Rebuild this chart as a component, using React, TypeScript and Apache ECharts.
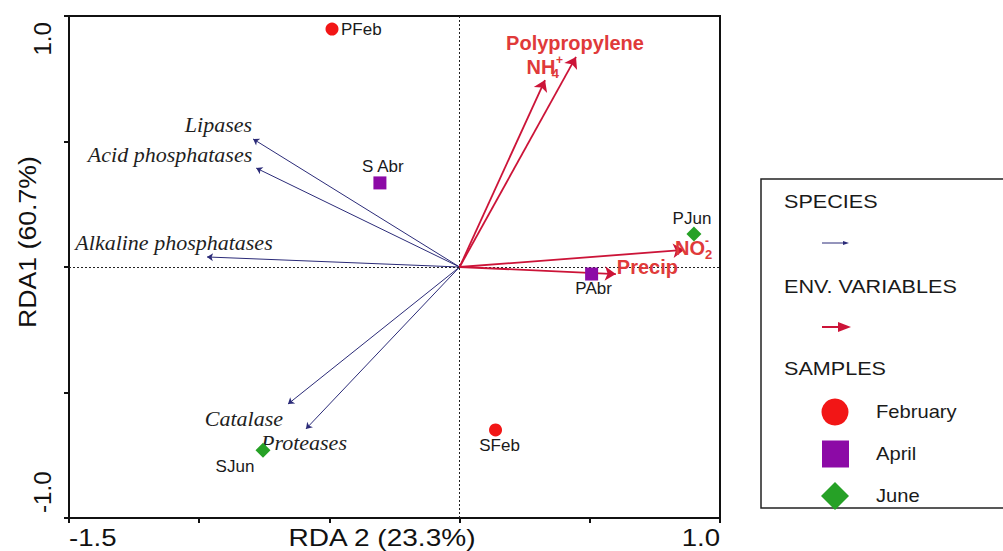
import React, { useEffect, useRef } from "react";
import * as echarts from "echarts";

// ---- data ----
const speciesNames = ["Lipases", "Acid phosphatases", "Alkaline phosphatases", "Catalase", "Proteases"];
const speciesX = [-0.793, -0.781, -0.97, -0.659, -0.59];
const speciesY = [0.51, 0.394, 0.04, -0.546, -0.645];

const envNames = ["Polypropylene", "NH4+", "NO2-", "Precip"];
const envX = [0.447, 0.328, 0.862, 0.6];
const envY = [0.837, 0.745, 0.068, -0.028];

const febNames = ["PFeb", "SFeb"];
const febX = [-0.49, 0.138];
const febY = [0.948, -0.649];

const aprNames = ["S Abr", "PAbr"];
const aprX = [-0.306, 0.507];
const aprY = [0.335, -0.028];

const junNames = ["PJun", "SJun"];
const junX = [0.9, -0.755];
const junY = [0.131, -0.73];

const xTickLabels = [-1.5, 1.0];
const yTickLabels = [1.0, -1.0];
const xName = "RDA 2 (23.3%)";
const yName = "RDA1 (60.7%)";

const legendTitles = ["SPECIES", "ENV. VARIABLES", "SAMPLES"];
const legendSamples = ["February", "April", "June"];

// ---- styles / layout ----
const RED = "#f21616";
const PURPLE = "#8c0aa6";
const GREEN = "#26a126";
const NAVY = "#2b2b78";
const CRIMSON = "#cc1438";
const ENV_TEXT = "#e03a3a";

const speciesLabelLayout: Record<string, any> = {
  "Lipases": { align: "right", offset: [-1, -14] },
  "Acid phosphatases": { align: "right", offset: [-4, -14] },
  "Alkaline phosphatases": { align: "center", offset: [-33, -14] },
  "Catalase": { align: "right", offset: [-5, 14] },
  "Proteases": { align: "center", offset: [-2, 14] },
};
const envLabelLayout: Record<string, any> = {
  "Polypropylene": { align: "center", offset: [-1, -14], text: "{m|Polypropylene}" },
  "NH4+": { align: "center", offset: [0, -13], text: "{m|NH}{s|4}{p|+}" },
  "NO2-": { align: "left", offset: [-9, -2], text: "{m|NO}{s|2}{p|-}" },
  "Precip": { align: "left", offset: [1, -7], text: "{m|Precip}" },
};
const sampleLabelLayout: Record<string, any> = {
  "PFeb": { align: "left", offset: [9, 0] },
  "SFeb": { align: "center", offset: [4, 16] },
  "S Abr": { align: "center", offset: [3, -16] },
  "PAbr": { align: "center", offset: [2, 14] },
  "PJun": { align: "center", offset: [-2, -16] },
  "SJun": { align: "center", offset: [-28, 16] },
};

function sampleSeries(name: string, names: string[], xs: number[], ys: number[], symbol: string, size: number, color: string) {
  return {
    type: "scatter",
    name,
    symbol,
    symbolSize: size,
    z: 10,
    itemStyle: { color, opacity: 1 },
    data: names.map((n, i) => ({
      name: n,
      value: [xs[i], ys[i]],
      label: {
        show: true,
        position: "inside",
        formatter: "{b}",
        color: "#1a1a1a",
        fontFamily: "Arial, Liberation Sans, sans-serif",
        fontSize: 17,
        verticalAlign: "middle",
        ...sampleLabelLayout[n],
      },
    })),
  };
}

export default function App() {
  const ref = useRef<HTMLDivElement>(null);
  useEffect(() => {
    if (!ref.current) return;
    const chart = echarts.init(ref.current, null, { renderer: "svg" });
    const envFont = "Arial, Liberation Sans, sans-serif";
    const option: any = {
      animation: false,
      grid: { left: 69, top: 16, width: 651, height: 502, show: true, borderColor: "#111", borderWidth: 2 },
      xAxis: {
        type: "value", min: -1.5, max: 1.0, interval: 0.5,
        axisLine: { show: true, onZero: false, lineStyle: { color: "#111", width: 2 } },
        axisTick: { show: true, length: 5, lineStyle: { color: "#111", width: 2 } },
        axisLabel: { show: false }, splitLine: { show: false },
      },
      yAxis: {
        type: "value", min: -1.0, max: 1.0, interval: 0.5,
        axisLine: { show: true, onZero: false, lineStyle: { color: "#111", width: 2 } },
        axisTick: { show: true, length: 5, lineStyle: { color: "#111", width: 2 } },
        axisLabel: { show: false }, splitLine: { show: false },
      },
      series: [
        {
          type: "scatter", symbolSize: 0, data: [], silent: true,
          markLine: {
            silent: true, symbol: "none", label: { show: false },
            lineStyle: { color: "#222", type: [2, 2], width: 1 },
            data: [{ xAxis: 0 }, { yAxis: 0 }],
          },
        },
        {
          type: "lines", coordinateSystem: "cartesian2d", z: 4,
          symbol: ["none", "arrow"], symbolSize: [0, 6],
          lineStyle: { color: NAVY, width: 1, opacity: 1, curveness: 0 },
          data: speciesNames.map((n, i) => ({ name: n, coords: [[0, 0], [speciesX[i], speciesY[i]]] })),
        },
        {
          type: "lines", coordinateSystem: "cartesian2d", z: 5,
          symbol: ["none", "arrow"], symbolSize: [0, 11],
          lineStyle: { color: CRIMSON, width: 1.8, opacity: 1, curveness: 0 },
          data: envNames.map((n, i) => ({ name: n, coords: [[0, 0], [envX[i], envY[i]]] })),
        },
        {
          type: "scatter", symbolSize: 0, z: 6, silent: true, itemStyle: { opacity: 1 },
          data: speciesNames.map((n, i) => ({
            name: n, value: [speciesX[i], speciesY[i]],
            label: {
              show: true, position: "inside", formatter: "{b}", color: "#1e1e1e",
              fontFamily: "Liberation Serif, Times New Roman, serif", fontStyle: "italic", fontSize: 22,
              verticalAlign: "middle", ...speciesLabelLayout[n],
            },
          })),
        },
        {
          type: "scatter", symbolSize: 0, z: 7, silent: true, itemStyle: { opacity: 1 },
          data: envNames.map((n, i) => ({
            name: n, value: [envX[i], envY[i]],
            label: {
              show: true, position: "inside", formatter: envLabelLayout[n].text,
              verticalAlign: "middle", align: envLabelLayout[n].align, offset: envLabelLayout[n].offset,
              rich: {
                m: { fontFamily: envFont, fontWeight: "bold", fontSize: 20, color: ENV_TEXT, lineHeight: 20, verticalAlign: "middle" },
                s: { fontFamily: envFont, fontWeight: "bold", fontSize: 13, color: ENV_TEXT, lineHeight: 20, verticalAlign: "bottom", width: 0, align: "left", padding: [0, 0, -3, 0] },
                p: { fontFamily: envFont, fontWeight: "bold", fontSize: 12, color: ENV_TEXT, lineHeight: 20, verticalAlign: "top", width: 8, align: "left", padding: [-3, 0, 0, 0] },
              },
            },
          })),
        },
        sampleSeries("February", febNames, febX, febY, "circle", 13, RED),
        sampleSeries("April", aprNames, aprX, aprY, "rect", 13, PURPLE),
        sampleSeries("June", junNames, junX, junY, "diamond", 15, GREEN),
      ],
    };
    chart.setOption(option);

    const px = (x: number, y: number) => chart.convertToPixel({ gridIndex: 0 }, [x, y]) as number[];
    const axisFont = { fontFamily: "Arial, Liberation Sans, sans-serif", fontSize: 23, fill: "#111" };
    const graphics: any[] = [];
    xTickLabels.forEach((v, i) => {
      const p = px(v, -1.0);
      graphics.push({
        type: "text", x: p[0], y: 538, scaleX: 1.2,
        style: { ...axisFont, text: v.toFixed(1), align: i === 0 ? "left" : "right", verticalAlign: "middle" },
      });
    });
    yTickLabels.forEach((v, i) => {
      const p = px(-1.5, v);
      graphics.push({
        type: "text", x: 43, y: i === 0 ? p[1] + 6 : p[1] - 5, rotation: Math.PI / 2, scaleX: 1.05,
        style: { ...axisFont, text: v.toFixed(1), align: i === 0 ? "right" : "left", verticalAlign: "middle" },
      });
    });
    graphics.push({
      type: "text", x: 382, y: 538, scaleX: 1.22,
      style: { ...axisFont, text: xName, align: "center", verticalAlign: "middle" },
    });
    graphics.push({
      type: "text", x: 28, y: 242, rotation: Math.PI / 2, scaleX: 1.16,
      style: { ...axisFont, text: yName, align: "center", verticalAlign: "middle" },
    });

    const lf = { fontFamily: "Arial, Liberation Sans, sans-serif", fontSize: 18, fill: "#1a1a1a" };
    graphics.push({ type: "rect", shape: { x: 761, y: 179, width: 300, height: 329 }, style: { fill: "#fff", stroke: "#222", lineWidth: 1.5 }, z: 1 });
    const titleY = [202, 287, 369];
    legendTitles.forEach((t, i) => {
      graphics.push({ type: "text", x: 784, y: titleY[i], scaleX: 1.2, z: 2, style: { ...lf, text: t, align: "left", verticalAlign: "middle" } });
    });
    graphics.push({ type: "line", z: 2, shape: { x1: 822, y1: 243, x2: 844, y2: 243 }, style: { stroke: NAVY, lineWidth: 1 } });
    graphics.push({ type: "polygon", z: 2, shape: { points: [[843, 241], [849, 243], [843, 245]] }, style: { fill: NAVY } });
    graphics.push({ type: "line", z: 2, shape: { x1: 822, y1: 327, x2: 840, y2: 327 }, style: { stroke: CRIMSON, lineWidth: 2 } });
    graphics.push({ type: "polygon", z: 2, shape: { points: [[838, 322], [851, 327], [838, 332]] }, style: { fill: CRIMSON } });
    const sampY = [412, 454, 496];
    graphics.push({ type: "circle", z: 2, shape: { cx: 835, cy: sampY[0], r: 13.5 }, style: { fill: RED } });
    graphics.push({ type: "rect", z: 2, shape: { x: 822, y: sampY[1] - 13.5, width: 27, height: 27 }, style: { fill: PURPLE } });
    graphics.push({ type: "polygon", z: 2, shape: { points: [[835, sampY[2] - 14], [849, sampY[2]], [835, sampY[2] + 14], [821, sampY[2]]] }, style: { fill: GREEN } });
    legendSamples.forEach((t, i) => {
      graphics.push({ type: "text", x: 876, y: sampY[i], scaleX: 1.12, z: 2, style: { ...lf, text: t, align: "left", verticalAlign: "middle" } });
    });

    chart.setOption({ graphic: graphics });
    return () => chart.dispose();
  }, []);
  return <div ref={ref} style={{ position: "fixed", left: 0, top: 0, width: 1003, height: 551, background: "#fff" }} />;
}
